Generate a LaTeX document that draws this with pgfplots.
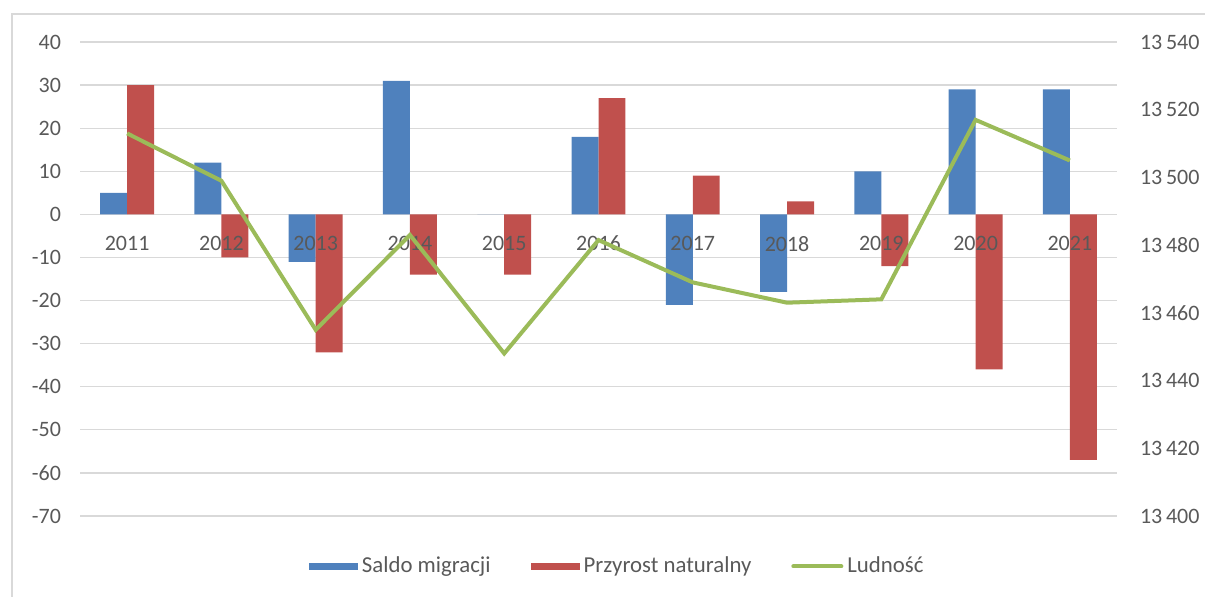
\documentclass[border=0pt]{standalone}
\usepackage{pgfplots}
\pgfplotsset{compat=1.18}
\usepackage{fontspec}
\setmainfont{Carlito}
\definecolor{cblue}{HTML}{4F81BD}
\definecolor{cred}{HTML}{C0504D}
\definecolor{cgreen}{HTML}{9BBB59}
\definecolor{ctxt}{HTML}{595959}
\definecolor{cgrid}{HTML}{D9D9D9}
\begin{document}
\begin{tikzpicture}
\useasboundingbox (0,0) rectangle (602.5pt,298pt);
\draw[cgrid, line width=1.2pt] (6pt,-5pt) -- (6pt,291pt) -- (610pt,291pt);
\begin{axis}[
  at={(40pt,40pt)}, anchor=south west,
  scale only axis, width=518.5pt, height=237pt,
  xmin=-0.5, xmax=10.5, ymin=-70, ymax=40,
  axis x line=none, axis y line=left,
  axis line style={draw=none,-},
  ytick={-70,-60,...,40},
  major tick length=0pt,
  ymajorgrids, grid style={cgrid, line width=0.6pt},
  tick label style={font=\fontsize{11}{13}\selectfont, text=ctxt},
  yticklabel style={xshift=-6pt},
  /pgf/number format/assume math mode=true,
  legend style={at={(0.519,-0.1065)}, anchor=center, draw=none, fill=none,
    legend columns=-1, font=\fontsize{11.4}{13}\selectfont, text=ctxt,
    nodes={inner xsep=2pt},
    /tikz/every even column/.append style={column sep=18pt}},
  legend image code/.code={\fill[#1] (0pt,-1.75pt) rectangle (24.5pt,1.75pt);},
]
\addplot[ybar, bar width=0.286, bar shift=-0.143, fill=cblue, draw=none] coordinates {
(0,5) (1,12) (2,-11) (3,31) (4,0) (5,18) (6,-21) (7,-18) (8,10) (9,29) (10,29)};
\addlegendentry{Saldo migracji}
\addplot[ybar, bar width=0.286, bar shift=0.143, fill=cred, draw=none] coordinates {
(0,30) (1,-10) (2,-32) (3,-14) (4,-14) (5,27) (6,9) (7,3) (8,-12) (9,-36) (10,-57)};
\addlegendentry{Przyrost naturalny}
\addlegendimage{legend image code/.code={\draw[cgreen, line width=2pt, line cap=round] (1pt,0pt) -- (25pt,0pt);}}
\addlegendentry{Ludność}
\end{axis}
\begin{axis}[
  at={(40pt,40pt)}, anchor=south west,
  scale only axis, width=518.5pt, height=237pt,
  xmin=-0.5, xmax=10.5, ymin=13400, ymax=13540,
  axis x line*=bottom, axis y line*=right,
  axis line style={draw=none,-},
  xtick={0,...,10},
  xticklabels={2011,2012,2013,2014,2015,2016,2017,2018,2019,2020,2021},
  xticklabel style={yshift=143.5pt},
  ytick={13400,13420,...,13540},
  scaled y ticks=false,
  major tick length=0pt,
  tick label style={font=\fontsize{11}{13}\selectfont, text=ctxt},
  yticklabel style={xshift=8pt},
  /pgf/number format/assume math mode=true,
  /pgf/number format/1000 sep={\,},
]
\addplot[cgreen, line width=2pt, mark=none] coordinates {
(0,13513) (1,13499) (2,13455) (3,13483) (4,13448) (5,13481.5) (6,13469) (7,13463) (8,13464) (9,13517) (10,13505)};
\end{axis}
\end{tikzpicture}
\end{document}
